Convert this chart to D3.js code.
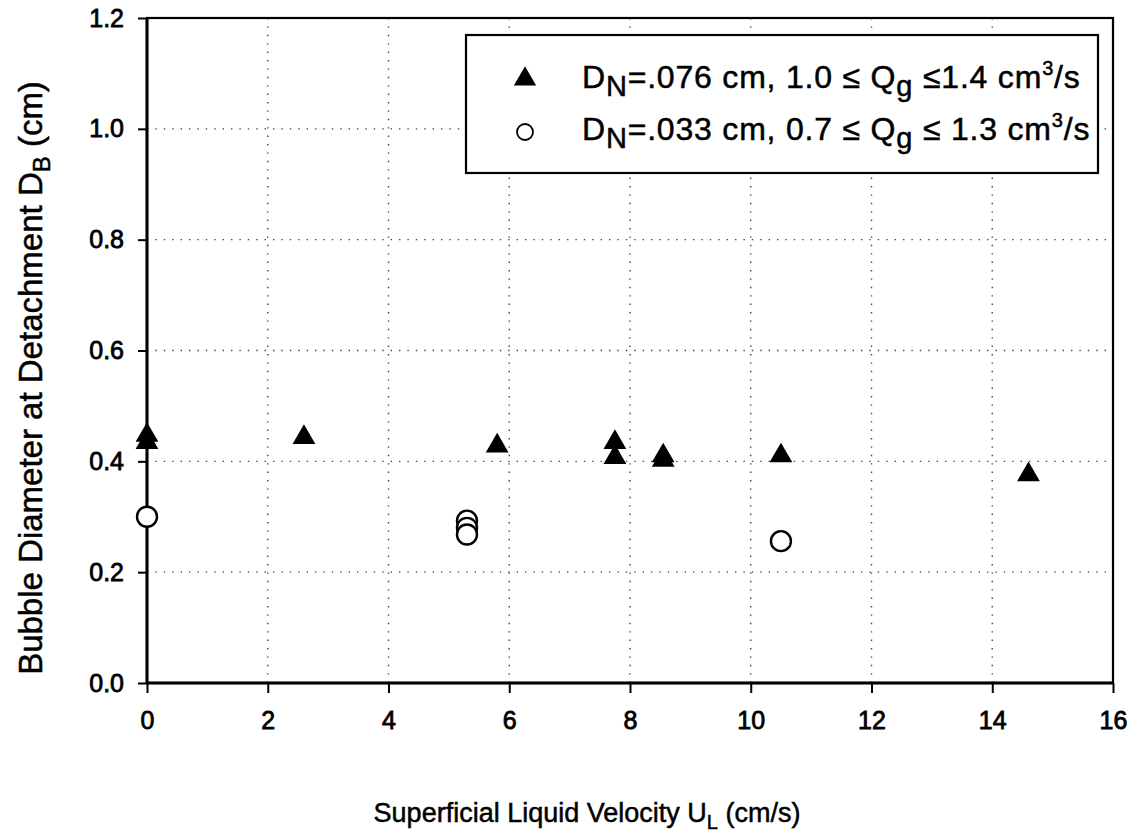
<!DOCTYPE html>
<html>
<head>
<meta charset="utf-8">
<script src="https://cdn.jsdelivr.net/npm/d3@7"></script>
<style>
  body { margin: 0; background: #fff; }
  text { font-family: "Liberation Sans", Arial, sans-serif; fill: #000; stroke: #000; stroke-width: 0.5px; }
  .tick text { stroke-width: 0.8px; }
</style>
</head>
<body>
<svg id="chart" width="1142" height="840"></svg>
<script>
// nozzle D_N = .076 cm (filled triangles)
var triX = [0, 0, 2.6, 5.8, 7.75, 7.75, 8.55, 8.55, 10.5, 14.6]
var triY = [0.447, 0.434, 0.443, 0.428, 0.434, 0.407, 0.41, 0.402, 0.41, 0.376]
// nozzle D_N = .033 cm (open circles)
var circX = [0, 5.3, 5.3, 5.3, 10.5]
var circY = [0.30, 0.293, 0.28, 0.268, 0.256]

var xTicks = [0, 2, 4, 6, 8, 10, 12, 14, 16]
var yTicks = [0, 0.2, 0.4, 0.6, 0.8, 1.0, 1.2]

var svg = d3.select("#chart"),
  margin = {top: 18, right: 29, bottom: 157, left: 147},
  width = +svg.attr("width") - margin.left - margin.right,
  height = +svg.attr("height") - margin.top - margin.bottom;

var x = d3.scaleLinear().domain([0, 16]).range([0, width]),
  y = d3.scaleLinear().domain([0, 1.2]).range([height, 0]);

var g = svg.append("g").attr("transform", "translate(" + margin.left + "," + margin.top + ")");

// dotted grid
g.selectAll(".vgrid")
  .data(xTicks.filter(d => d > 0 && d < 16))
  .enter().append("line")
  .attr("class", "vgrid")
  .attr("x1", d => x(d)).attr("x2", d => x(d))
  .attr("y1", 0).attr("y2", height)
  .attr("stroke", "#444").attr("stroke-width", 1.4)
  .attr("stroke-dasharray", "1.4,7");

g.selectAll(".hgrid")
  .data(yTicks.filter(d => d > 0 && d < 1.2))
  .enter().append("line")
  .attr("class", "hgrid")
  .attr("x1", 0).attr("x2", width)
  .attr("y1", d => y(d)).attr("y2", d => y(d))
  .attr("stroke", "#444").attr("stroke-width", 1.4)
  .attr("stroke-dasharray", "1.4,7");

// axes
var xAxis = g.append("g")
  .attr("transform", "translate(0," + height + ")")
  .call(d3.axisBottom(x).tickValues(xTicks).tickSize(10).tickPadding(18).tickFormat(d3.format("d")));

var yAxis = g.append("g")
  .call(d3.axisLeft(y).tickValues(yTicks).tickSize(9).tickPadding(14).tickFormat(d3.format(".1f")));

[xAxis, yAxis].forEach(function(a){
  a.select(".domain").remove();
  a.selectAll("line").attr("stroke", "#000").attr("stroke-width", 2);
  a.selectAll("text").attr("font-size", 25).attr("fill", "#000")
    .style("font-family", "'Liberation Sans', Arial, sans-serif");
});

// frame
g.append("rect")
  .attr("x", 0).attr("y", 0)
  .attr("width", width).attr("height", height)
  .attr("fill", "none").attr("stroke", "#000").attr("stroke-width", 2.2);
g.append("line").attr("x1", 0).attr("x2", 0).attr("y1", 0).attr("y2", height)
  .attr("stroke", "#000").attr("stroke-width", 3);
g.append("line").attr("x1", 0).attr("x2", width).attr("y1", height).attr("y2", height)
  .attr("stroke", "#000").attr("stroke-width", 3);

// data
var tri = d3.symbol().type(d3.symbolTriangle).size(225);

g.selectAll(".tri")
  .data(d3.zip(triX, triY))
  .enter().append("path")
  .attr("class", "tri")
  .attr("d", tri)
  .attr("transform", d => "translate(" + x(d[0]) + "," + y(d[1]) + ")")
  .attr("fill", "#000");

g.selectAll(".circ")
  .data(d3.zip(circX, circY))
  .enter().append("circle")
  .attr("class", "circ")
  .attr("cx", d => x(d[0]))
  .attr("cy", d => y(d[1]))
  .attr("r", 10)
  .attr("fill", "#fff")
  .attr("stroke", "#000")
  .attr("stroke-width", 2.4);

// legend
var leg = svg.append("g");
leg.append("rect")
  .attr("x", 466).attr("y", 35)
  .attr("width", 632).attr("height", 138)
  .attr("fill", "#fff").attr("stroke", "#000").attr("stroke-width", 2.2);

leg.append("path")
  .attr("d", d3.symbol().type(d3.symbolTriangle).size(215))
  .attr("transform", "translate(525,79)")
  .attr("fill", "#000");

leg.append("circle")
  .attr("cx", 525).attr("cy", 132).attr("r", 8)
  .attr("fill", "#fff").attr("stroke", "#000").attr("stroke-width", 1.8);

function legendLine(yPos, parts) {
  var t = leg.append("text").attr("x", 582).attr("y", yPos)
    .attr("font-size", 32).attr("letter-spacing", 0.8);
  parts.forEach(function(p){
    var s = t.append("tspan").text(p[0]);
    if (p[1] == "sub") s.attr("font-size", 29).attr("dy", 8);
    if (p[1] == "sup") s.attr("font-size", 20).attr("dy", -13);
    if (p[1] == "back") s.attr("dy", -8);
    if (p[1] == "backsup") s.attr("dy", 13);
  });
}

legendLine(88, [["D"], ["N", "sub"], ["=.076 cm, 1.0 ≤ Q", "back"], ["g", "sub"], [" ≤1.4 cm", "back"], ["3", "sup"], ["/s", "backsup"]]);
legendLine(140, [["D"], ["N", "sub"], ["=.033 cm, 0.7 ≤ Q", "back"], ["g", "sub"], [" ≤ 1.3 cm", "back"], ["3", "sup"], ["/s", "backsup"]]);

// axis titles
var xt = svg.append("text")
  .attr("x", 587).attr("y", 822)
  .attr("text-anchor", "middle").attr("font-size", 27);
xt.append("tspan").text("Superficial Liquid Velocity U");
xt.append("tspan").text("L").attr("font-size", 20).attr("dy", 7);
xt.append("tspan").text(" (cm/s)").attr("dy", -7);

var yt = svg.append("text")
  .attr("transform", "translate(42,378) rotate(-90)")
  .attr("text-anchor", "middle").attr("font-size", 33);
yt.append("tspan").text("Bubble Diameter at Detachment D");
yt.append("tspan").text("B").attr("font-size", 24).attr("dy", 8);
yt.append("tspan").text(" (cm)").attr("dy", -8);
</script>
</body>
</html>
